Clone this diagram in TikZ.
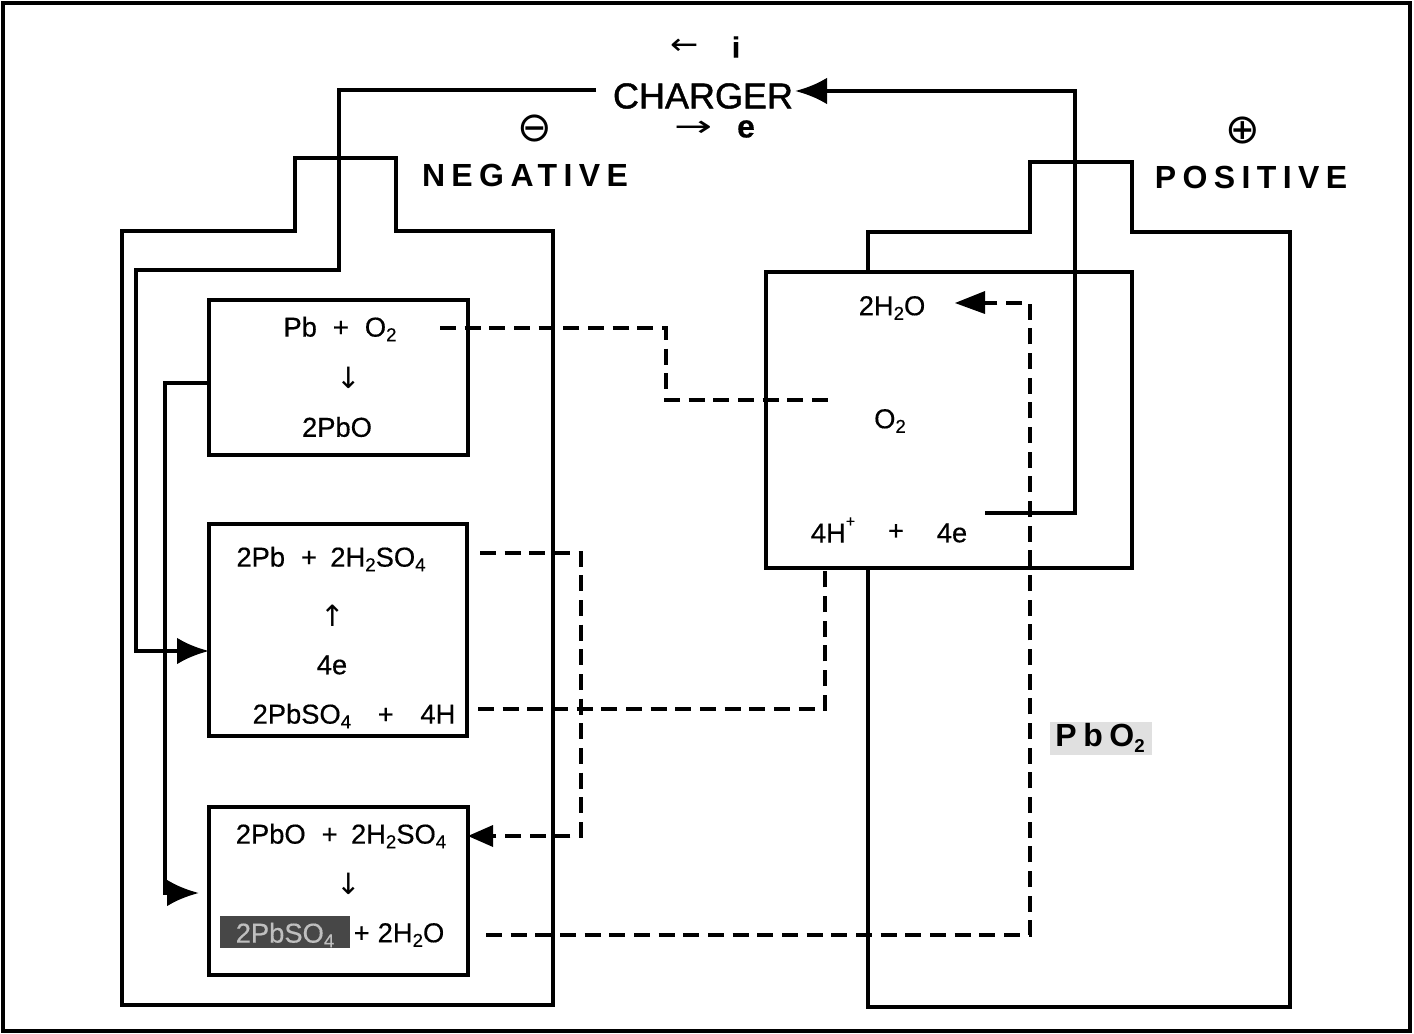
\documentclass[tikz,border=0pt]{standalone}
\usepackage{fontspec}
\setmainfont[FakeBold=0.4]{Liberation Sans}
\newfontfamily\symfont{DejaVu Sans}
\newfontfamily\heavyfont[FakeBold=1.2]{Liberation Sans}
\newfontfamily\spacedfont[LetterSpace=20]{Liberation Sans}
\newcommand{\lowr}[1]{\raisebox{-0.32ex}{\fontsize{14}{14}\selectfont #1}}
\newcommand{\gap}[1]{\hspace{#1pt}}
\usetikzlibrary{arrows.meta}
\tikzset{
 wall/.style={draw=black,line width=3pt,fill=none},
 cell/.style={draw=black,line width=3.2pt,fill=none,inner sep=0pt,outer sep=0pt,anchor=north west},
 wire/.style={draw=black,line width=3.3pt,line join=miter},
 flow/.style={draw=black,line width=3.2pt,dash pattern=on 12pt off 6.5pt},
 tip/.style={-{Latex[length=24pt,width=20pt]}},
 eq/.style={font=\fontsize{20.5}{22}\selectfont,inner sep=0pt},
 big/.style={font=\heavyfont\fontsize{27}{28}\selectfont,inner sep=0pt},
 pole/.style={font=\spacedfont\bfseries\fontsize{24}{26}\selectfont,inner sep=0pt},
 sign/.style={font=\symfont\fontsize{31}{32}\selectfont,inner sep=0pt},
 arrowmark/.style={font=\symfont\fontsize{22}{24}\selectfont,inner sep=0pt}
}
\begin{document}
\begin{tikzpicture}[x=0.75pt,y=-0.75pt]
\useasboundingbox (0,0) rectangle (1414,1034);
\fill[white] (0,0) rectangle (1414,1034);
\draw[black,line width=3.6pt] (3,3) rectangle (1410,1031);
% battery outlines
\draw[wall] (122,231)--(295,231)--(295,158)--(396,158)--(396,231)--(553,231)--(553,1005)--(122,1005)--cycle;
\draw[wall] (868,272)--(868,232)--(1030,232)--(1030,162)--(1132,162)--(1132,232)--(1290,232)--(1290,1007)--(868,1007)--(868,568);
% boxes
\node[cell,minimum width=194.25pt,minimum height=116pt] (top) at (209,300) {};
\node[cell,minimum width=193.5pt,minimum height=159pt] (mid) at (209,524) {};
\node[cell,minimum width=194.25pt,minimum height=126pt] (low) at (209,807) {};
\node[cell,minimum width=274.5pt,minimum height=222pt] (pos) at (766,272) {};
% hatched patches
\fill[black!72] (220,916) rectangle (350,948);
\fill[black!12] (1050,722) rectangle (1152,755);
% text
\node[big] (charger) at (703,96) {CHARGER};
\node[arrowmark,xscale=1.15] (arrI) at (685,47) {←};
\node[font=\fontsize{22}{24}\selectfont\bfseries,inner sep=0pt] (i) at (736,47) {i};
\node[arrowmark,xscale=1.55] (arrE) at (694,129) {→};
\node[font=\fontsize{24}{26}\selectfont\bfseries,inner sep=0pt] (e) at (746,129) {e};
\node[sign] (minus) at (535,129) {⊖};
\node[sign] (plus) at (1243,131) {⊕};
\node[pole] (neg) at (525,175) {NEGATIVE};
\node[pole] (posl) at (1251,177) {POSITIVE};
\node[eq] (t1) at (340,329) {Pb\gap{12}+\gap{12}O\lowr{2}};
\node[arrowmark] (t2) at (349,378) {↓};
\node[eq] (t3) at (337,427) {2PbO};
\node[eq] (m1) at (331,559) {2Pb\gap{12}+\gap{10}2H\lowr{2}SO\lowr{4}};
\node[arrowmark] (m2) at (333,616) {↑};
\node[eq] (m3) at (332,665) {4e};
\node[eq] (m4) at (354,716) {2PbSO\lowr{4}\gap{20}+\gap{20}4H};
\node[eq] (l1) at (341,836) {2PbO\gap{12}+\gap{10}2H\lowr{2}SO\lowr{4}};
\node[arrowmark] (l2) at (349,884) {↓};
\node[eq,text=black!25] (l3) at (285,935) {2PbSO\lowr{4}};
\node[eq] (l4) at (399,935) {+\gap{6}2H\lowr{2}O};
\node[eq] (p1) at (892,308) {2H\lowr{2}O};
\node[eq] (p2) at (890,421) {O\lowr{2}};
\node[eq] (p3) at (833,530) {4H\raisebox{1.1ex}{\fontsize{12}{12}\selectfont +}};
\node[eq] (p4) at (896,532) {+};
\node[eq] (p5) at (952,533) {4e};
\node[font=\spacedfont\bfseries\fontsize{24}{26}\selectfont,inner sep=0pt] (pb) at (1100,738) {P\gap{5}b\gap{5}O\lowr{2}};
% connector ends
\coordinate (w1a) at (596,90);
\coordinate (w3a) at (985,513);
\coordinate (f1a) at (440,328);
\coordinate (f1b) at (828,400);
\coordinate (f2a) at (480,553);
\coordinate (f3a) at (478,709);
\coordinate (f4a) at (486,935);
\coordinate (f4b) at (955,303);
\coordinate (w3b) at (795,91);
\coordinate (w1b) at (209,651);
\coordinate (w2a) at (209,383);
\coordinate (w2b) at (199,893);
\coordinate (f2b) at (468,836);
\coordinate (f3b) at (825,568);
% wires
\draw[wire,tip] (w1a)--(339,90)--(339,270)--(136,270)--(136,651)--(w1b);
\draw[wire,tip] (w2a)--(165,383)--(165,893)--(w2b);
\draw[wire,tip] (w3a)--(1075,513)--(1075,91)--(w3b);
% dashed flows
\draw[flow] (f1a)--(666,328)--(666,400)--(f1b);
\draw[flow] (f2a)--(581,553)--(581,836)--(490,836);
\draw[draw=none,fill=black] (f2b)--(493,825)--(493,847)--cycle;
\draw[flow] (f3a)--(825,709)--(f3b);
\draw[flow] (f4a)--(1030,935)--(1030,303)--(985,303);
\draw[draw=none,fill=black] (f4b)--(985,291)--(985,314)--cycle;
\end{tikzpicture}
\end{document}
